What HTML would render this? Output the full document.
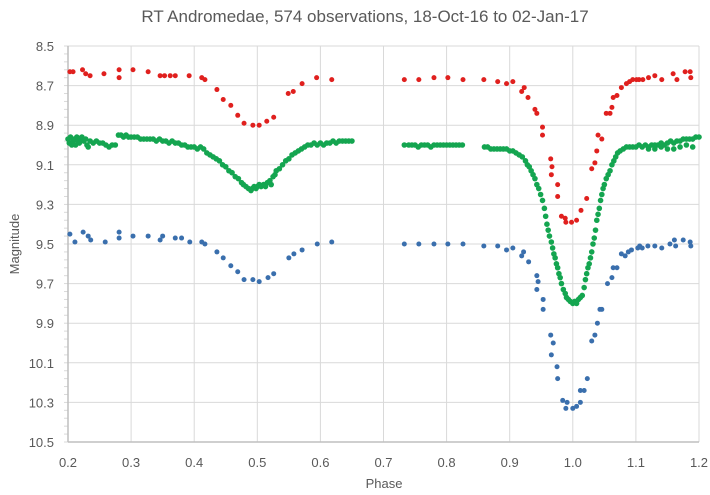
<!DOCTYPE html>
<html><head><meta charset="utf-8"><style>
body{margin:0;background:#fff;}
svg{display:block;font-family:"Liberation Sans",sans-serif;}
</style></head><body>
<svg id="chart" width="710" height="495">
<text x="365" y="22" font-size="17" fill="#595959" text-anchor="middle">RT Andromedae, 574 observations, 18-Oct-16 to 02-Jan-17</text>
<text x="19" y="244" font-size="13" fill="#595959" text-anchor="middle" transform="rotate(-90 19 244)">Magnitude</text>
<text x="384" y="488" font-size="13" fill="#595959" text-anchor="middle">Phase</text>
<g id="grid"></g><g id="pts"></g>
</svg>
<script>
const xTicks=[0.2,0.3,0.4,0.5,0.6,0.7,0.8,0.9,1.0,1.1,1.2];
const yTicks=[8.5,8.7,8.9,9.1,9.3,9.5,9.7,9.9,10.1,10.3,10.5];
const redPhase=[0.203,0.223,0.235,0.257,0.281,0.281,0.303,0.327,0.346,0.37,0.392,0.412,0.417,0.436,0.446,0.458,0.469,0.479,0.493,0.503,0.515,0.526,0.549,0.557,0.571,0.594,0.618,0.733,0.756,0.78,0.802,0.826,0.859,0.881,0.895,0.905,0.919,0.923,0.929,0.94,0.943,0.952,0.952,0.965,0.967,0.966,0.976,0.976,0.982,0.988,0.989,0.998,1.006,1.013,1.022,1.03,1.035,1.038,1.04,1.046,1.053,1.059,1.062,1.064,1.07,1.077,1.085,1.101,1.111,1.13,1.141,1.159,1.165,1.178,1.186,1.187,0.208,0.228,0.353,0.362,1.09,1.095,1.105,1.12];
const redMag=[8.63,8.62,8.65,8.64,8.62,8.66,8.62,8.63,8.65,8.65,8.65,8.66,8.67,8.72,8.77,8.80,8.85,8.89,8.90,8.90,8.88,8.86,8.74,8.73,8.69,8.66,8.67,8.67,8.67,8.66,8.66,8.67,8.67,8.68,8.69,8.68,8.73,8.71,8.76,8.82,8.84,8.91,8.95,9.07,9.11,9.15,9.20,9.26,9.36,9.37,9.39,9.39,9.38,9.33,9.27,9.12,9.09,9.03,8.95,8.97,8.84,8.84,8.81,8.76,8.75,8.71,8.69,8.67,8.67,8.65,8.67,8.64,8.67,8.63,8.63,8.66,8.63,8.64,8.65,8.65,8.68,8.67,8.67,8.66];
const bluePhase=[0.203,0.211,0.224,0.232,0.236,0.259,0.281,0.281,0.303,0.327,0.346,0.35,0.37,0.38,0.393,0.412,0.417,0.436,0.446,0.458,0.469,0.479,0.493,0.503,0.517,0.526,0.55,0.558,0.571,0.595,0.618,0.733,0.756,0.78,0.802,0.826,0.859,0.881,0.895,0.905,0.922,0.919,0.93,0.943,0.945,0.943,0.953,0.953,0.965,0.969,0.966,0.975,0.976,0.984,0.991,0.989,1.0,1.006,1.012,1.012,1.018,1.023,1.03,1.035,1.039,1.043,1.046,1.055,1.062,1.064,1.07,1.077,1.083,1.088,1.093,1.103,1.106,1.11,1.119,1.13,1.141,1.154,1.161,1.163,1.175,1.186,1.187];
const blueMag=[9.45,9.49,9.44,9.46,9.48,9.49,9.44,9.47,9.46,9.46,9.48,9.46,9.47,9.47,9.49,9.49,9.50,9.54,9.57,9.61,9.64,9.68,9.68,9.69,9.67,9.65,9.57,9.55,9.53,9.50,9.49,9.50,9.50,9.50,9.50,9.50,9.51,9.51,9.53,9.52,9.54,9.56,9.59,9.66,9.69,9.73,9.78,9.83,9.96,10.00,10.06,10.12,10.18,10.29,10.30,10.33,10.33,10.32,10.30,10.24,10.24,10.18,9.99,9.96,9.90,9.83,9.83,9.70,9.67,9.62,9.62,9.55,9.56,9.54,9.53,9.52,9.51,9.52,9.51,9.51,9.52,9.50,9.48,9.51,9.48,9.49,9.51];
const greenPhase=[0.200,0.202,0.204,0.206,0.208,0.210,0.212,0.214,0.216,0.218,0.220,0.222,0.225,0.228,0.230,0.232,0.235,0.240,0.245,0.250,0.255,0.260,0.265,0.270,0.275,0.280,0.284,0.288,0.292,0.296,0.300,0.305,0.310,0.315,0.320,0.325,0.330,0.335,0.340,0.345,0.350,0.355,0.360,0.365,0.370,0.375,0.380,0.385,0.390,0.395,0.400,0.405,0.410,0.415,0.420,0.425,0.430,0.435,0.440,0.445,0.450,0.455,0.460,0.465,0.470,0.475,0.478,0.482,0.486,0.490,0.492,0.495,0.498,0.500,0.503,0.506,0.510,0.513,0.516,0.520,0.522,0.525,0.528,0.530,0.535,0.540,0.545,0.550,0.555,0.560,0.565,0.570,0.575,0.580,0.585,0.590,0.595,0.600,0.605,0.610,0.615,0.620,0.625,0.630,0.635,0.640,0.645,0.650,
0.733,0.740,0.745,0.750,0.755,0.760,0.765,0.770,0.775,0.780,0.785,0.790,0.795,0.800,0.805,0.810,0.815,0.820,0.825,0.860,0.865,0.870,0.875,0.880,0.885,0.890,0.895,0.900,0.905,0.910,0.915,0.920,0.925,0.928,0.931,0.934,0.937,0.940,0.943,0.946,0.949,0.952,0.955,0.957,0.959,0.961,0.963,0.966,0.968,0.970,0.972,0.974,0.976,0.978,0.980,0.982,0.985,0.988,0.990,0.993,0.996,1.000,1.003,1.006,1.009,1.012,1.015,1.018,1.020,1.022,1.024,1.026,1.028,1.030,1.032,1.034,1.036,1.038,1.040,1.042,1.044,1.046,1.048,1.050,1.053,1.056,1.059,1.062,1.065,1.068,1.071,1.075,1.080,1.085,1.090,1.095,1.100,1.105,1.110,1.115,1.120,1.125,1.130,1.135,1.140,1.145,1.150,1.155,1.160,1.165,1.170,1.175,1.180,1.185,1.190,1.195,1.200,1.130,1.150,1.170,1.190,1.120,1.140,1.160,1.180];
const greenMag=[8.97,8.99,8.96,9.00,8.98,8.97,9.00,8.96,8.98,8.99,8.97,8.96,8.98,8.97,9.00,9.01,8.98,8.99,8.98,8.99,8.99,9.00,9.01,9.00,9.00,8.95,8.95,8.96,8.95,8.96,8.96,8.96,8.96,8.97,8.97,8.97,8.97,8.97,8.98,8.97,8.98,8.98,8.99,8.98,8.99,8.99,9.00,9.00,9.01,9.01,9.01,9.02,9.01,9.02,9.04,9.05,9.06,9.07,9.08,9.10,9.11,9.13,9.14,9.16,9.17,9.19,9.20,9.21,9.22,9.23,9.22,9.21,9.22,9.21,9.20,9.21,9.20,9.21,9.19,9.18,9.20,9.16,9.15,9.13,9.12,9.10,9.08,9.07,9.05,9.04,9.03,9.02,9.01,9.00,9.00,8.99,9.00,8.99,9.00,8.99,8.99,8.98,8.99,8.98,8.98,8.98,8.98,8.98,
9.00,9.00,9.00,9.00,9.01,9.00,9.00,9.00,9.01,9.00,9.00,9.00,9.00,9.00,9.00,9.00,9.00,9.00,9.00,9.01,9.01,9.02,9.02,9.02,9.02,9.02,9.02,9.03,9.03,9.04,9.05,9.06,9.08,9.10,9.11,9.13,9.15,9.17,9.20,9.22,9.25,9.28,9.32,9.36,9.40,9.43,9.46,9.49,9.52,9.55,9.57,9.60,9.62,9.65,9.67,9.70,9.73,9.75,9.77,9.78,9.79,9.80,9.79,9.80,9.78,9.77,9.76,9.72,9.68,9.65,9.62,9.60,9.57,9.54,9.50,9.47,9.43,9.38,9.35,9.32,9.28,9.25,9.22,9.20,9.17,9.15,9.13,9.10,9.08,9.06,9.04,9.03,9.02,9.01,9.01,9.01,9.01,9.00,9.01,9.00,9.01,9.00,9.00,9.00,8.99,9.00,8.99,8.98,8.99,8.98,8.98,8.97,8.97,8.97,8.97,8.96,8.96,9.02,9.02,9.01,9.01,9.02,9.01,9.02,9.00];
const X0=68,X1=699,Y0=46,Y1=442;
const xs=p=>X0+(p-0.2)/1.0*(X1-X0);
const ys=m=>Y0+(m-8.5)/2.0*(Y1-Y0);
const NS='http://www.w3.org/2000/svg';
const grid=document.getElementById('grid'),pts=document.getElementById('pts');
function mk(tag,attrs,parent){const e=document.createElementNS(NS,tag);for(const k in attrs)e.setAttribute(k,attrs[k]);parent.appendChild(e);return e;}
xTicks.forEach(t=>{
  const l=mk('line',{x1:xs(t),x2:xs(t),y1:Y0,y2:Y1,stroke:'#d9d9d9','stroke-width':1},grid);
  
  
  const tx=mk('text',{x:xs(t),y:467,'font-size':13,fill:'#595959','text-anchor':'middle'},grid);
  tx.textContent=t.toFixed(1);
  
  
});
yTicks.forEach(t=>{
  const l=mk('line',{x1:X0,x2:X1,y1:ys(t),y2:ys(t),stroke:'#d9d9d9','stroke-width':1},grid);
  
  
  const tx=mk('text',{x:54,y:ys(t)+5,'font-size':13,fill:'#595959','text-anchor':'end'},grid);
  tx.textContent=t.toFixed(1);
  
  
});
for(let i=0;i<=50;i++){
  const y=Y0+i*(Y1-Y0)/50;
  const m=mk('line',{x1:X0-4,x2:X0,y1:y,y2:y,stroke:'#d9d9d9','stroke-width':1},grid);
  
  
}
const ax=mk('line',{x1:X0,x2:X1,y1:Y1,y2:Y1,stroke:'#bfbfbf','stroke-width':1.5},grid);


const ay=mk('line',{x1:X0,x2:X0,y1:Y0,y2:Y1,stroke:'#bfbfbf','stroke-width':1.5},grid);


function series(ph,mg,color,name,r){
  for(let i=0;i<ph.length;i++){
    const c=mk('circle',{cx:xs(ph[i]),cy:ys(mg[i]),r:r,fill:color},pts);
    
    
  }
}
series(redPhase,redMag,'#e0201e','red-point',2.5);
series(greenPhase,greenMag,'#14a550','green-point',2.8);
series(bluePhase,blueMag,'#3a6fad','blue-point',2.5);
</script>
</body></html>
